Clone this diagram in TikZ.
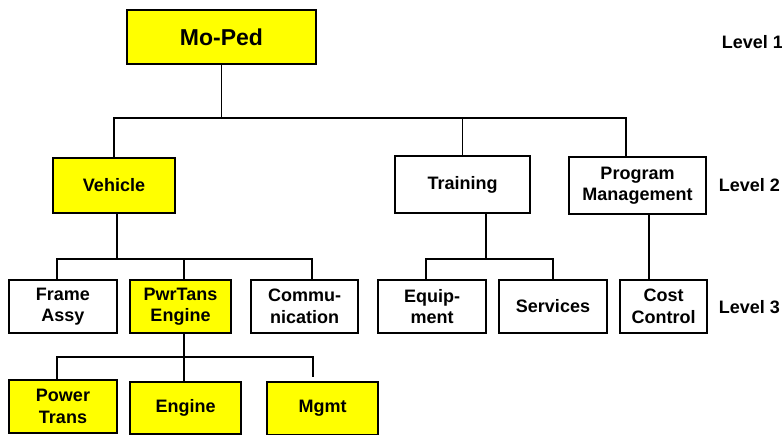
\documentclass[tikz,border=0pt]{standalone}
\usepackage{fontspec}
\setmainfont{Liberation Sans}
\definecolor{boxyellow}{RGB}{255,255,0}
\begin{document}
\begin{tikzpicture}[x=1pt,y=1pt,
  line width=1.8pt,
  unit/.style={draw=black, line width=1.8pt, inner sep=0pt, align=center,
    font=\fontsize{18}{21.5}\selectfont\bfseries},
  hl/.style={unit, fill=boxyellow},
  plain/.style={unit, fill=white},
  lvl/.style={anchor=west, inner sep=0pt, font=\fontsize{18}{21.5}\selectfont\bfseries}]
\useasboundingbox (0,0) rectangle (782,-435);

% Level 1
\node[hl, minimum width=189, minimum height=54,
      font=\fontsize{23}{27}\selectfont\bfseries] (moped) at (221.5,-37) {Mo-Ped};

% Level 2
\node[hl, minimum width=122, minimum height=55] (veh) at (114,-185.5) {Vehicle};
\node[plain, minimum width=135, minimum height=57] (train) at (462.5,-184.5) {Training};
\node[plain, minimum width=137, minimum height=57] (prog) at (637.5,-185.5) {Program\\Management};

% Level 3
\node[plain, minimum width=108, minimum height=53] (frame) at (63,-306.5) {Frame\\Assy};
\node[hl, minimum width=101, minimum height=53] (pwr) at (180.5,-306.5) {PwrTans\\Engine};
\node[plain, minimum width=107, minimum height=53] (comm) at (304.5,-306.5) {Commu-\\nication};
\node[plain, minimum width=108, minimum height=53] (equip) at (432,-306.5) {Equip-\\ment};
\node[plain, minimum width=108, minimum height=53] (serv) at (553,-306.5) {Services};
\node[plain, minimum width=87, minimum height=53] (cost) at (663.5,-306.5) {Cost\\Control};

% Level 4
\node[hl, minimum width=108, minimum height=53] (ptrans) at (63,-406.5) {Power\\Trans};
\node[hl, minimum width=111, minimum height=52] (eng) at (185.5,-408) {Engine};
\node[hl, minimum width=111, minimum height=53] (mgmt) at (322.5,-408.5) {Mgmt};

% Level labels
\node[lvl] (l1) at (721,-42) {Level 1};
\node[lvl] (l2) at (718,-185) {Level 2};
\node[lvl] (l3) at (718,-307) {Level 3};

% Bus junctions
\coordinate (bus1) at (221.5,-118);
\coordinate (bus2) at (117,-259);
\coordinate (bus3) at (486,-259);
\coordinate (bus4) at (184,-357);
\coordinate (mend) at (313,-377);

% Mo-Ped to level 2
\draw (moped.south) -- (bus1);
\draw (veh.north) |- (bus1) -| ([xshift=-11.5pt]prog.north);
\draw (train.north) -- (train.north |- bus1);

% Vehicle to level 3
\draw ([xshift=3pt]veh.south) -- (bus2);
\draw ([xshift=-6pt]frame.north) |- (bus2) -| ([xshift=7.5pt]comm.north);
\draw ([xshift=3.5pt]pwr.north) -- ([xshift=3.5pt]pwr.north |- bus2);

% Training to level 3
\draw ([xshift=23.5pt]train.south) -- (bus3);
\draw ([xshift=-6pt]equip.north) |- (bus3) -| (serv.north);

% Program Management to level 3
\draw ([xshift=11.5pt]prog.south) -- ([xshift=-14.5pt]cost.north);

% PwrTans Engine to level 4
\draw ([xshift=3.5pt]pwr.south) -- (bus4);
\draw ([xshift=-6pt]ptrans.north) |- (bus4) -| (mend);
\draw ([xshift=-1.5pt]eng.north) -- (bus4);
\end{tikzpicture}
\end{document}
